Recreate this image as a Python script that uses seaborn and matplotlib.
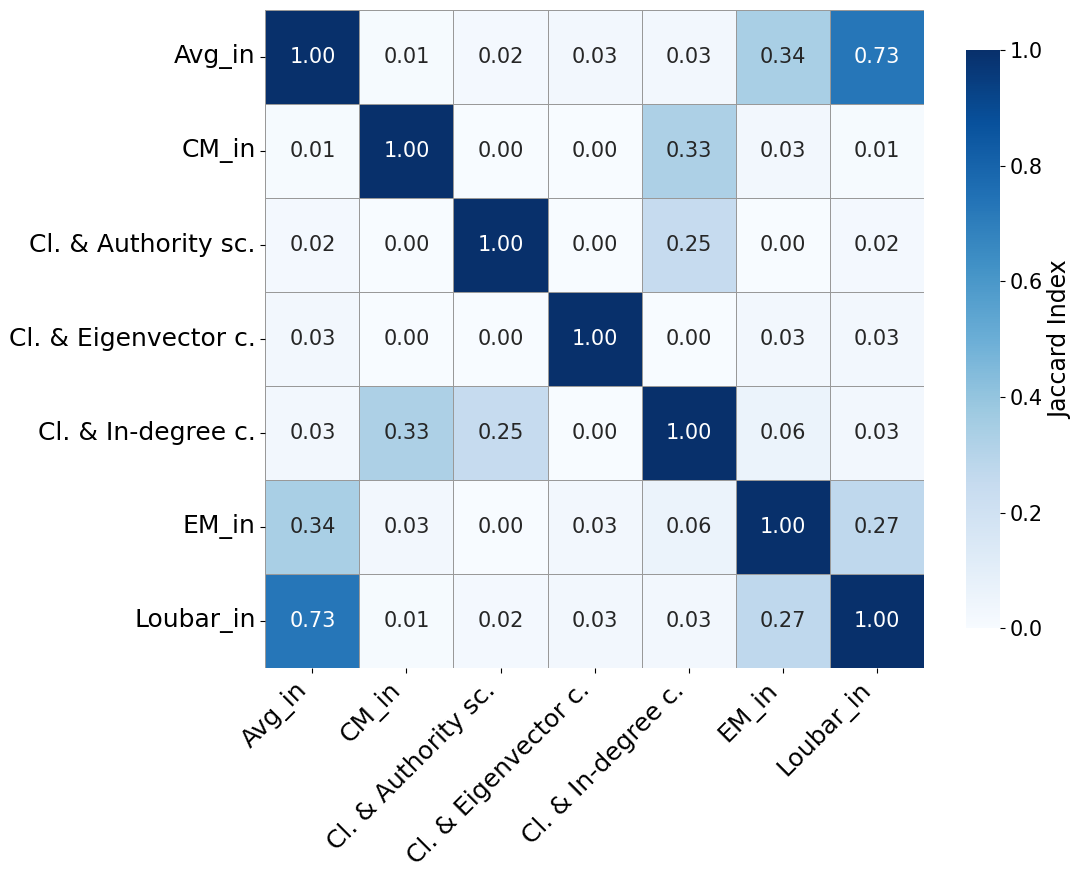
import matplotlib
matplotlib.use("Agg")
import matplotlib.pyplot as plt
import seaborn as sns
import pandas as pd

labels = ["Avg_in", "CM_in", "Cl. & Authority sc.", "Cl. & Eigenvector c.",
          "Cl. & In-degree c.", "EM_in", "Loubar_in"]

row_avg = [1.00, 0.01, 0.02, 0.03, 0.03, 0.34, 0.73]
row_cm = [0.01, 1.00, 0.00, 0.00, 0.33, 0.03, 0.01]
row_auth = [0.02, 0.00, 1.00, 0.00, 0.25, 0.00, 0.02]
row_eig = [0.03, 0.00, 0.00, 1.00, 0.00, 0.03, 0.03]
row_indeg = [0.03, 0.33, 0.25, 0.00, 1.00, 0.06, 0.03]
row_em = [0.34, 0.03, 0.00, 0.03, 0.06, 1.00, 0.27]
row_loubar = [0.73, 0.01, 0.02, 0.03, 0.03, 0.27, 1.00]

df = pd.DataFrame([row_avg, row_cm, row_auth, row_eig, row_indeg, row_em, row_loubar],
                  index=labels, columns=labels)

fig = plt.figure(figsize=(10.8, 8.8), dpi=100)
ax = fig.add_axes([0.245, 0.241, 0.611, 0.748])
cax = fig.add_axes([0.894, 0.286, 0.032, 0.657])
sns.heatmap(df, annot=True, fmt=".2f", cmap="Blues", vmin=0, vmax=1,
            square=True, linewidths=0.5, linecolor="#999999",
            annot_kws={"fontsize": 15},
            cbar_ax=cax, cbar_kws={"label": "Jaccard Index"},
            ax=ax)
ax.set_xticklabels(labels, rotation=45, ha="right", fontsize=18)
ax.set_yticklabels(labels, rotation=0, fontsize=18)
ax.set_xlabel("")
ax.set_ylabel("")
cax.tick_params(labelsize=15)
cax.yaxis.label.set_size(17)
for sp in cax.spines.values():
    sp.set_visible(False)

plt.savefig("out.png", dpi=100)
plt.close()
